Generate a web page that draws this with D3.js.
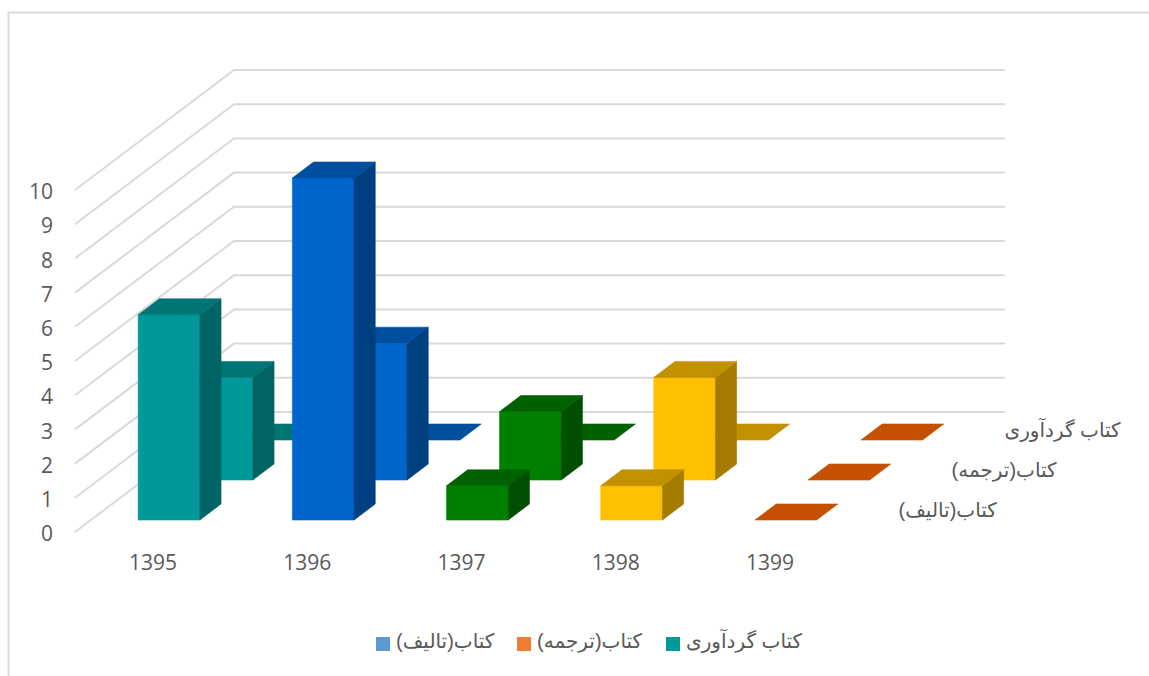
<!DOCTYPE html>
<html>
<head>
<meta charset="utf-8">
<script src="https://cdn.jsdelivr.net/npm/d3@7"></script>
<style>
  html, body { margin: 0; background: #fff; }
  svg { display: block; }
  .tick text { font-family: "Open Sans", sans-serif; fill: #595959; }
  .depth-label, .legend-label { font-family: "Liberation Sans", "DejaVu Sans", sans-serif; fill: #595959; }
  .grid { fill: none; stroke: #d9d9d9; stroke-width: 2; }
</style>
</head>
<body>
<div id="wrapper"></div>
<script>
const years = ["1395", "1396", "1397", "1398", "1399"]
const seriesNames = ["کتاب(تالیف)", "کتاب(ترجمه)", "کتاب گردآوری"]
const taalif = [6, 10, 1, 1, 0]
const tarjome = [3, 4, 2, 3, 0]
const gerdavari = [0, 0, 0, 0, 0]
const yTicks = [0, 1, 2, 3, 4, 5, 6, 7, 8, 9, 10]

// front, top, side colour for each year
const frontColors = ["#009999", "#0066cc", "#008000", "#ffc000", "#e65f00"]
const topColors = ["#007575", "#004f9e", "#006100", "#c29100", "#c55000"]
const sideColors = ["#006464", "#003f80", "#004f00", "#a67c00", "#a04000"]
const legendColors = ["#5b9bd5", "#ed7d31", "#009999"]

const dimensions = { width: 1149, height: 676, left: 75, floor: 532, wallWidth: 771 }
const depthX = 53
const depthY = -40

const rows = [taalif, tarjome, gerdavari]

const wrapper = d3.select("#wrapper")
  .append("svg")
    .attr("width", dimensions.width)
    .attr("height", dimensions.height)

// chart frame
wrapper.append("path")
    .attr("d", "M1149,12.5H8.5V676")
    .attr("fill", "none")
    .attr("stroke", "#d9d9d9")
    .attr("stroke-width", 2)

const bounds = wrapper.append("g")
    .attr("transform", `translate(${dimensions.left}, ${dimensions.floor})`)

// scales
const xScale = d3.scaleBand()
  .domain(years)
  .range([1, 772])
  .paddingInner(0.6)
  .paddingOuter(0.3)

const yScale = d3.scaleLinear()
  .domain([0, 10])
  .range([0, -342])

const depthScale = d3.scaleBand()
  .domain(d3.range(rows.length))
  .range([0, rows.length])
  .paddingInner(0.6)
  .paddingOuter(0.3)

const project = (x, value, depth) => [x + depth * depthX, yScale(value) + depth * depthY]
const poly = points => d3.line()(points) + "Z"

// walls
const wallDepth = rows.length
bounds.append("g").selectAll("path")
  .data(yTicks)
  .join("path")
    .attr("class", "grid")
    .attr("d", d => d3.line()([
      project(0, d, 0),
      project(0, d, wallDepth),
      project(dimensions.wallWidth, d, wallDepth),
    ]))

// bars, back row first
const barData = []
rows.forEach((values, row) => {
  values.forEach((value, i) => barData.push({ row, i, value, year: years[i] }))
})
barData.sort((a, b) => b.row - a.row || a.i - b.i)

const bar = bounds.append("g").selectAll("g")
  .data(barData)
  .join("g")

const face = (d, kind) => {
  const x0 = xScale(d.year)
  const x1 = x0 + xScale.bandwidth()
  const z0 = depthScale(d.row)
  const z1 = z0 + depthScale.bandwidth()
  if (kind == "front") return [project(x0, 0, z0), project(x1, 0, z0), project(x1, d.value, z0), project(x0, d.value, z0)]
  if (kind == "side") return [project(x1, 0, z0), project(x1, 0, z1), project(x1, d.value, z1), project(x1, d.value, z0)]
  return [project(x0, d.value, z0), project(x1, d.value, z0), project(x1, d.value, z1), project(x0, d.value, z1)]
}

// same colour stroke closes the seams between faces
const drawFace = (selection, kind, colors) => selection.append("path")
    .attr("d", d => poly(face(d, kind)))
    .attr("fill", d => colors[d.i])
    .attr("stroke", d => colors[d.i])
    .attr("stroke-width", 0.6)
    .attr("stroke-linejoin", "round")

drawFace(bar.filter(d => d.value > 0), "front", frontColors)
drawFace(bar.filter(d => d.value > 0), "side", sideColors)
drawFace(bar, "top", topColors)

// axes
const yAxis = bounds.append("g")
    .attr("transform", "translate(0, 2)")
    .call(d3.axisLeft(yScale).tickValues(yTicks).tickSize(0).tickPadding(22))
yAxis.select(".domain").remove()
yAxis.selectAll("text").style("font-size", "21px")

const xAxis = bounds.append("g")
    .call(d3.axisBottom(xScale).tickSize(0).tickPadding(23))
xAxis.select(".domain").remove()
xAxis.selectAll("text").style("font-size", "21px")

bounds.append("g").selectAll("text")
  .data(seriesNames)
  .join("text")
    .attr("class", "depth-label")
    .attr("direction", "rtl")
    .attr("text-anchor", "end")
    .attr("x", (d, i) => project(dimensions.wallWidth + 26, 0, i + 0.5)[0])
    .attr("y", (d, i) => project(0, 0, i + 0.5)[1])
    .attr("dy", "0.25em")
    .style("font-size", "20px")
    .text(d => d)

// legend
const legendX = [376, 517, 666]
const legend = wrapper.append("g")
    .attr("transform", "translate(0, 637)")
  .selectAll("g")
  .data(seriesNames)
  .join("g")
    .attr("transform", (d, i) => `translate(${legendX[i]}, 0)`)

legend.append("rect")
    .attr("width", 14)
    .attr("height", 14)
    .attr("fill", (d, i) => legendColors[i])

legend.append("text")
    .attr("class", "legend-label")
    .attr("direction", "rtl")
    .attr("text-anchor", "end")
    .attr("x", 20)
    .attr("y", 7)
    .attr("dy", "0.2em")
    .style("font-size", "20px")
    .text(d => d)
</script>
</body>
</html>
